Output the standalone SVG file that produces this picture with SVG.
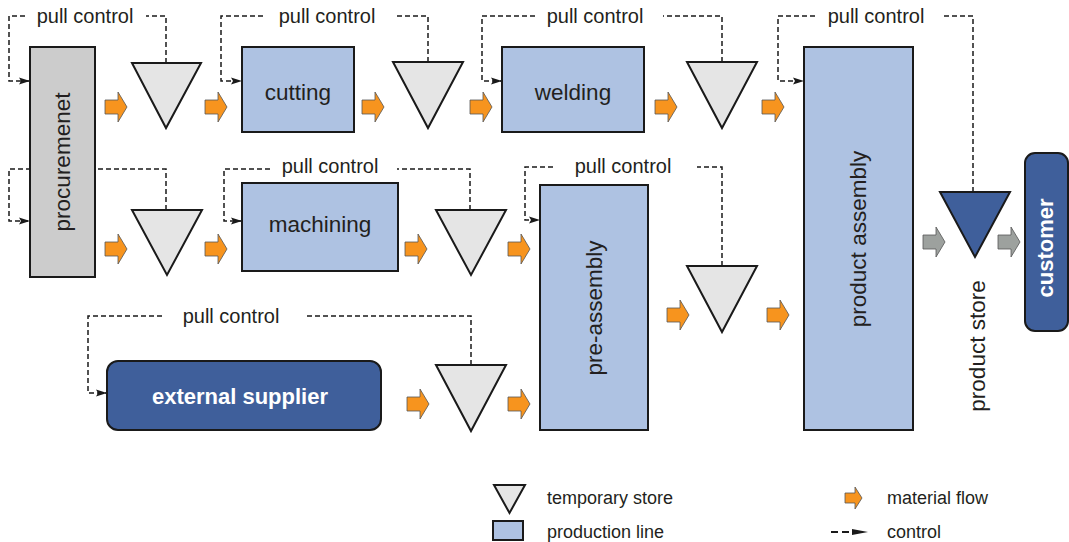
<svg xmlns="http://www.w3.org/2000/svg" width="1069" height="542" viewBox="0 0 1069 542">
  <style>
    text { font-family: "Liberation Sans", Arial, sans-serif; fill: #231f20; }
    .ctl { fill: none; stroke: #1a1a1a; stroke-width: 1.5; stroke-dasharray: 5 3; }
    .lbl { font-size: 20px; text-anchor: middle; }
    .name { font-size: 22.5px; text-anchor: middle; }
    .bold { font-size: 22px; font-weight: bold; fill: #ffffff; text-anchor: middle; }
    .leg { font-size: 18px; }
    .line { fill: #aec2e2; stroke: #1a1a1a; stroke-width: 2; }
    .store { fill: #e5e5e5; stroke: #1a1a1a; stroke-width: 2; stroke-linejoin: miter; }
    .dark { fill: #3f5f9b; stroke: #1a1a1a; stroke-width: 2; }
    .flow { fill: #f7941e; stroke: #555555; stroke-width: 0.8; }
    .flowg { fill: #9da19e; stroke: #555555; stroke-width: 0.8; }
  </style>
  <defs>
    <marker id="ah" markerUnits="userSpaceOnUse" markerWidth="12" markerHeight="8" refX="11" refY="4" orient="auto">
      <path d="M0,0.5 L11,4 L0,7.5 L2,4 Z" fill="#1a1a1a"/>
    </marker>
    <path id="flowArrow" d="M0,-7 H13 V-15 L22,0 L13,15 V7 H0 Z"/>
  </defs>

  <rect width="1069" height="542" fill="#ffffff"/>

  <!-- control loops (drawn first so boxes sit on top) -->
  <g id="connectors">
    <path class="ctl" d="M166,63 V16 H146"/>
    <path class="ctl" d="M25,16 H9 V81 H30" marker-end="url(#ah)"/>
    <path class="ctl" d="M428,62 V16 H395"/>
    <path class="ctl" d="M263,16 H221 V81 H242" marker-end="url(#ah)"/>
    <path class="ctl" d="M722,62 V16 H663"/>
    <path class="ctl" d="M535,16 H482 V81 H502" marker-end="url(#ah)"/>
    <path class="ctl" d="M973,192 V16 H942"/>
    <path class="ctl" d="M815,16 H778 V81 H804" marker-end="url(#ah)"/>
    <path class="ctl" d="M166,210 V169 H9 V221 H30" marker-end="url(#ah)"/>
    <path class="ctl" d="M470,210 V169 H397"/>
    <path class="ctl" d="M270,169 H224 V221 H242" marker-end="url(#ah)"/>
    <path class="ctl" d="M722,266 V167 H697"/>
    <path class="ctl" d="M553,167 H525 V220 H540" marker-end="url(#ah)"/>
    <path class="ctl" d="M471,365 V316 H304"/>
    <path class="ctl" d="M162,316 H88 V393 H107" marker-end="url(#ah)"/>

    <!-- material flow arrows -->
    <g class="flow">
      <use href="#flowArrow" transform="translate(105,107)"/>
      <use href="#flowArrow" transform="translate(205,107)"/>
      <use href="#flowArrow" transform="translate(362,107)"/>
      <use href="#flowArrow" transform="translate(470,107)"/>
      <use href="#flowArrow" transform="translate(655,107)"/>
      <use href="#flowArrow" transform="translate(762,107)"/>
      <use href="#flowArrow" transform="translate(105,249)"/>
      <use href="#flowArrow" transform="translate(205,249)"/>
      <use href="#flowArrow" transform="translate(405,249)"/>
      <use href="#flowArrow" transform="translate(508,249)"/>
      <use href="#flowArrow" transform="translate(667,315)"/>
      <use href="#flowArrow" transform="translate(767,315)"/>
      <use href="#flowArrow" transform="translate(407,404)"/>
      <use href="#flowArrow" transform="translate(508,404)"/>
    </g>
    <g class="flowg">
      <use href="#flowArrow" transform="translate(923,242)"/>
      <use href="#flowArrow" transform="translate(998,242)"/>
    </g>

    <!-- pull control labels -->
    <text class="lbl" x="85" y="23">pull control</text>
    <text class="lbl" x="327" y="23">pull control</text>
    <text class="lbl" x="595" y="23">pull control</text>
    <text class="lbl" x="876" y="23">pull control</text>
    <text class="lbl" x="330" y="173">pull control</text>
    <text class="lbl" x="623" y="173">pull control</text>
    <text class="lbl" x="231" y="323">pull control</text>
  </g>

  <g id="procurement">
    <rect x="30" y="47" width="65" height="230" fill="#cccccc" stroke="#1a1a1a" stroke-width="2"/>
    <text class="name" transform="translate(70,162) rotate(-90)">procuremenet</text>
  </g>

  <g id="cutting">
    <rect class="line" x="242" y="47" width="112" height="85"/>
    <text class="name" x="298" y="100">cutting</text>
  </g>

  <g id="welding">
    <rect class="line" x="502" y="47" width="142" height="85"/>
    <text class="name" x="573" y="100">welding</text>
  </g>

  <g id="machining">
    <rect class="line" x="242" y="183" width="156" height="88"/>
    <text class="name" x="320" y="232">machining</text>
  </g>

  <g id="pre-assembly">
    <rect class="line" x="540" y="185" width="108" height="245"/>
    <text class="name" transform="translate(602,308) rotate(-90)">pre-assembly</text>
  </g>

  <g id="product-assembly">
    <rect class="line" x="804" y="47" width="109" height="383"/>
    <text class="name" transform="translate(866,239) rotate(-90)">product assembly</text>
  </g>

  <g id="external-supplier">
    <rect class="dark" x="107" y="361" width="274" height="69" rx="11"/>
    <text class="bold" x="240" y="404">external supplier</text>
  </g>

  <g id="customer">
    <rect class="dark" x="1025" y="153" width="43" height="178" rx="10"/>
    <text class="bold" transform="translate(1053,248) rotate(-90)">customer</text>
  </g>

  <g id="stores">
    <polygon class="store" points="132,63 201,63 166,128"/>
    <polygon class="store" points="393,62 463,62 428,128"/>
    <polygon class="store" points="687,62 757,62 722,128"/>
    <polygon class="store" points="132,210 202,210 167,275"/>
    <polygon class="store" points="436,210 506,210 471,275"/>
    <polygon class="store" points="687,266 757,266 722,332"/>
    <polygon class="store" points="436,365 506,365 471,431"/>
  </g>

  <g id="product-store">
    <polygon class="dark" points="940,192 1010,192 975,257"/>
    <text class="name" transform="translate(985,346) rotate(-90)">product store</text>
  </g>

  <g id="legend">
    <polygon class="store" points="494,485 525,485 509.5,513"/>
    <text class="leg" x="547" y="504">temporary store</text>
    <rect class="line" x="493" y="521" width="30" height="19"/>
    <text class="leg" x="547" y="538">production line</text>
    <path class="flow" d="M845,493 H855 V487 L862,498 L855,509 V503 H845 Z"/>
    <text class="leg" x="887" y="504">material flow</text>
    <path d="M831,532 H838 M842,532 H849" stroke="#1a1a1a" stroke-width="1.8"/>
    <path d="M852,529 L868,532 L852,535 Z" fill="#1a1a1a"/>
    <text class="leg" x="887" y="538">control</text>
  </g>
</svg>
